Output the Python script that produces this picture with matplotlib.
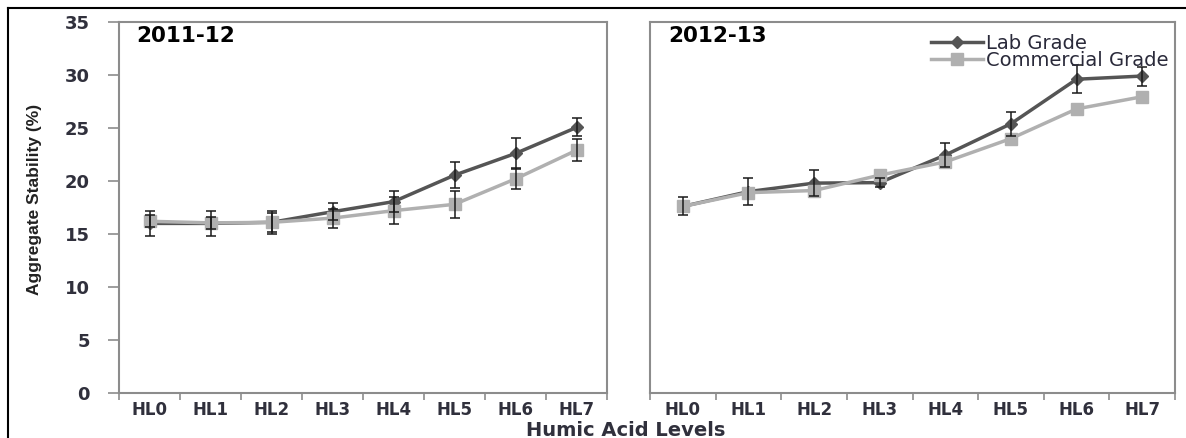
import numpy as np
import matplotlib.pyplot as plt
from matplotlib.lines import Line2D

levels = ['HL0', 'HL1', 'HL2', 'HL3', 'HL4', 'HL5', 'HL6', 'HL7']

# 2011-12
lab_1 = [16.0, 16.0, 16.1, 17.1, 18.05, 20.55, 22.6, 25.05]
lab_1_err = [1.2, 1.2, 1.1, 0.8, 1.0, 1.2, 1.45, 0.85]
com_1 = [16.2, 16.05, 16.1, 16.5, 17.2, 17.8, 20.2, 22.9]
com_1_err = [0.55, 0.6, 0.9, 0.9, 1.3, 1.3, 1.0, 1.05]

# 2012-13
lab_2 = [17.6, 19.0, 19.8, 19.85, 22.45, 25.4, 29.6, 29.9]
lab_2_err = [0.85, 1.3, 1.2, 0.4, 1.1, 1.15, 1.3, 0.9]
com_2 = [17.6, 18.9, 19.1, 20.55, 21.8, 24.0, 26.8, 27.95]

tick_col = '#30303c'
spine_col = '#8c8c8c'
lab_col = '#555555'
com_col = '#b0b0b0'

fig = plt.figure(figsize=(11.86, 4.38), dpi=100)
ax1 = fig.add_axes([119 / 1186, 1 - 393 / 438, (607 - 119) / 1186, (393 - 22) / 438])
ax2 = fig.add_axes([650 / 1186, 1 - 393 / 438, (1175 - 650) / 1186, (393 - 22) / 438])

x = np.arange(len(levels))

panels = [(ax1, '2011-12', lab_1, lab_1_err, com_1, com_1_err),
          (ax2, '2012-13', lab_2, lab_2_err, com_2, None)]

for ax, title, lab, lab_err, com, com_err in panels:
    ax.plot(x, lab, color=lab_col, lw=2.5, marker='D', ms=6, mec=lab_col,
            label='Lab Grade', zorder=3)
    ax.plot(x, com, color=com_col, lw=2.5, marker='s', ms=8.5, mec=com_col,
            label='Commercial Grade', zorder=4)
    ax.errorbar(x, lab, yerr=lab_err, fmt='none', ecolor='#1a1a1a', elinewidth=1.1,
                capsize=3.5, capthick=1.1, zorder=5)
    if com_err is not None:
        ax.errorbar(x, com, yerr=com_err, fmt='none', ecolor='#1a1a1a', elinewidth=1.1,
                    capsize=3.5, capthick=1.1, zorder=5)

    ax.set_xlim(-0.5, 7.5)
    ax.set_ylim(0, 35)
    ax.set_xticks(np.arange(-0.5, 8, 1))
    ax.set_xticklabels([])
    ax.set_xticks(x, minor=True)
    ax.set_xticklabels(levels, minor=True)
    ax.tick_params(axis='x', which='major', direction='out', length=5, width=1.2,
                   color=spine_col)
    ax.tick_params(axis='x', which='minor', length=0, pad=6,
                   labelsize=12, labelcolor=tick_col)
    for lbl in ax.get_xticklabels(minor=True):
        lbl.set_fontweight('bold')
    for s in ax.spines.values():
        s.set_color(spine_col)
        s.set_linewidth(1.5)
    ax.text(0.035, 0.99, title, transform=ax.transAxes, fontsize=15.5,
            fontweight='bold', color='black', va='top', ha='left')

ax1.set_yticks(np.arange(0, 36, 5))
ax1.tick_params(axis='y', direction='out', length=8, width=1.2, color=spine_col,
                labelsize=13, labelcolor=tick_col, pad=13)
for lbl in ax1.get_yticklabels():
    lbl.set_fontweight('bold')
ax2.set_yticks([])

ax2.legend(loc='upper right', bbox_to_anchor=(1.01, 1.0), frameon=False,
           fontsize=14, handlelength=2.7, handletextpad=0.15, labelspacing=-0.1,
           borderaxespad=0.2, labelcolor='#2a2a3a')

fig.text(35 / 1186, 1 - 199 / 438, 'Aggregate Stability (%)', rotation=90,
         ha='center', va='center', fontsize=12.5, fontweight='bold', color='#222222',
         family=['Liberation Sans', 'DejaVu Sans'])
fig.text(626 / 1186, 1 - 430 / 438, 'Humic Acid Levels', ha='center', va='center',
         fontsize=14, fontweight='bold', color=tick_col)

# outer frame (cropped at the right and bottom)
fig.add_artist(Line2D([8 / 1186, 1.0], [1 - 8 / 438, 1 - 8 / 438], color='black', lw=1.5))
fig.add_artist(Line2D([8 / 1186, 8 / 1186], [0.0, 1 - 8 / 438], color='black', lw=1.5))

fig.savefig('out.png', dpi=100)
